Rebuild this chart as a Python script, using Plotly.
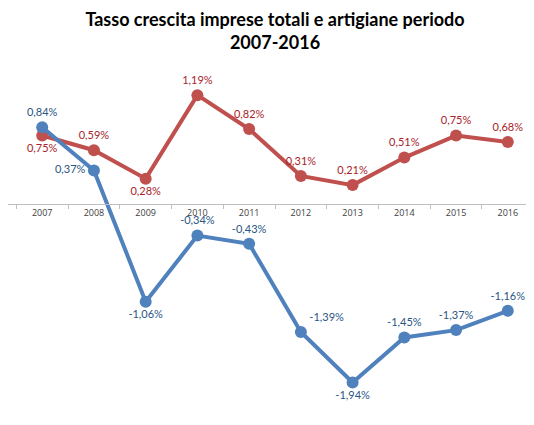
import plotly.graph_objects as go

# Dati: tasso di crescita (%)
anni = ["2007", "2008", "2009", "2010", "2011", "2012", "2013", "2014", "2015", "2016"]
artigiane = [0.75, 0.59, 0.28, 1.19, 0.82, 0.31, 0.21, 0.51, 0.75, 0.68]
totali = [0.84, 0.37, -1.06, -0.34, -0.43, -1.39, -1.94, -1.45, -1.37, -1.16]

pos_artigiane = ["bottom center", "top center", "bottom center", "top center", "top center",
                 "top center", "top center", "top center", "top center", "top center"]
pos_totali = ["top center", "middle left", "bottom center", "top center", "top center",
              "top right", "bottom center", "top center", "top center", "top center"]


def fmt(v):
    return f"{v:.2f}".replace(".", ",") + "%"


y_min, y_max = -2.295, 1.475
axis_pos = (0 - y_min) / (y_max - y_min)

RED = "#C0504D"
BLUE = "#4F81BD"

fig = go.Figure()

fig.add_trace(go.Scatter(
    x=anni, y=artigiane,
    mode="lines+markers+text",
    line=dict(color=RED, width=4),
    marker=dict(color=RED, size=12),
    text=[fmt(v) for v in artigiane],
    textposition=pos_artigiane,
    textfont=dict(color="#A8232B", size=11, family="Lato"),
    name="Artigiane",
))

fig.add_trace(go.Scatter(
    x=anni, y=totali,
    mode="lines+markers+text",
    line=dict(color=BLUE, width=4),
    marker=dict(color=BLUE, size=12),
    text=[fmt(v) for v in totali],
    textposition=pos_totali,
    textfont=dict(color="#2A5585", size=11, family="Lato"),
    name="Totali",
))

fig.update_layout(
    title=dict(
        text="<b>Tasso crescita imprese totali e artigiane periodo<br>2007-2016</b>",
        x=0.5, xanchor="center", y=0.958, yanchor="top",
        font=dict(size=18, color="#000000", family="Lato"),
    ),
    width=534, height=425,
    margin=dict(l=0, r=0, t=61, b=18),
    paper_bgcolor="white",
    plot_bgcolor="white",
    showlegend=False,
    font=dict(family="Lato"),
)

fig.update_xaxes(
    type="category",
    anchor="free", position=axis_pos,
    showline=True, linecolor="#BFBFBF", linewidth=1,
    ticks="outside", tickson="boundaries", ticklen=4, tickcolor="#BFBFBF",
    tickfont=dict(size=9, color="#404040", family="Open Sans"),
    showgrid=False,
)
fig.update_yaxes(
    range=[y_min, y_max],
    visible=False, showgrid=False, zeroline=False,
)

fig.write_html("out.html")
